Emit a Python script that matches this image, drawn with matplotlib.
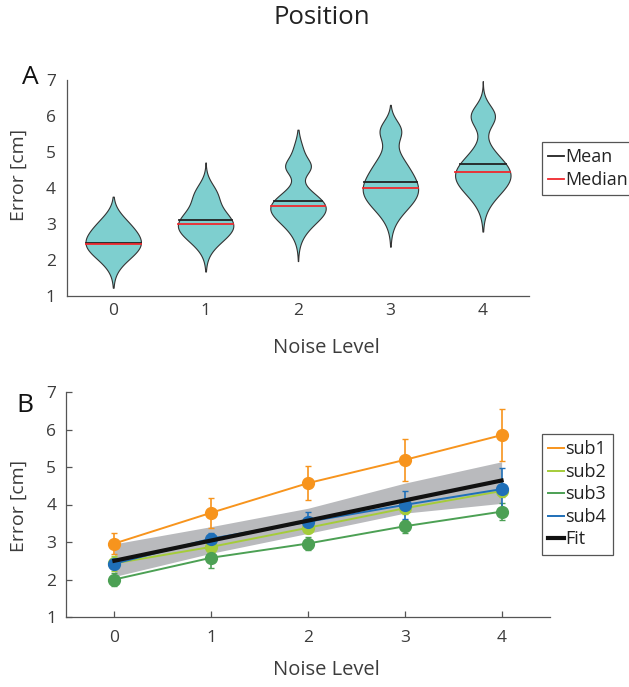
import numpy as np
import matplotlib
matplotlib.use("Agg")
import matplotlib.pyplot as plt
from matplotlib.lines import Line2D

plt.rcParams['font.family'] = ['Open Sans', 'DejaVu Sans']
TXT = '#3c3c3c'

# ---- panel A: violin data (per noise level) ----
levels = [0, 1, 2, 3, 4]
viol_mean = [2.47, 3.10, 3.64, 4.17, 4.67]
viol_median = [2.44, 3.00, 3.49, 4.00, 4.44]
viol_min = [1.23, 1.68, 1.97, 2.37, 2.79]
viol_max = [3.76, 4.71, 5.62, 6.31, 6.97]
# density shape as gaussian components (centre, spread, weight)
viol_mu = [[2.45, 3.05], [2.95, 3.85], [3.50, 3.05, 4.58, 5.00],
           [3.90, 4.70, 5.60], [4.35, 6.00]]
viol_sd = [[0.42, 0.30], [0.43, 0.30], [0.38, 0.40, 0.22, 0.30],
           [0.51, 0.40, 0.28], [0.53, 0.30]]
viol_w = [[1.00, 0.22], [1.00, 0.32], [1.00, 0.30, 0.45, 0.20],
          [1.00, 0.30, 0.38], [1.00, 0.43]]

# ---- panel B: per-subject error ----
sub1 = [2.96, 3.78, 4.57, 5.19, 5.85]
sub1_err = [0.29, 0.40, 0.46, 0.55, 0.70]
sub2 = [2.43, 2.87, 3.38, 3.90, 4.36]
sub2_err = [0.20, 0.15, 0.15, 0.15, 0.15]
sub3 = [2.00, 2.58, 2.96, 3.42, 3.81]
sub3_err = [0.18, 0.28, 0.18, 0.17, 0.22]
sub4 = [2.42, 3.09, 3.54, 3.99, 4.41]
sub4_err = [0.15, 0.15, 0.27, 0.38, 0.57]
fit_vals = [2.50, 3.04, 3.57, 4.11, 4.64]
fit_hi = [2.95, 3.41, 3.90, 4.57, 5.14]
fit_lo = [2.08, 2.70, 3.23, 3.77, 4.03]

sub_names = ['sub1', 'sub2', 'sub3', 'sub4']
sub_colors = ['#F7941D', '#A5CC3A', '#4CA054', '#1F6FB8']

W, H = 629, 687
fig = plt.figure(figsize=(W / 100, H / 100), dpi=100)
fig.text(322 / W, 1 - 18 / H, 'Position', ha='center', va='center', fontsize=18.5, color='#222222')

def style_axes(ax, ticks_in, ylab_y, xlab_y):
    for s in ['top', 'right']:
        ax.spines[s].set_visible(False)
    for s in ['left', 'bottom']:
        ax.spines[s].set_color('#555555')
        ax.spines[s].set_linewidth(0.9)
    ax.set_ylim(1, 7)
    ax.set_xlim(-0.5, 4.5)
    ax.set_yticks(range(1, 8))
    ax.set_xticks(levels)
    if ticks_in:
        ax.tick_params(direction='in', length=4, width=0.9, color='#555555',
                       labelsize=12.5, labelcolor=TXT)
        ax.tick_params(axis='x', pad=9)
        ax.tick_params(axis='y', pad=7)
    else:
        ax.tick_params(length=0, labelsize=12.5, labelcolor=TXT, pad=8)
        ax.tick_params(axis='x', pad=5)
    # label positions measured in figure pixels
    fig.text(19 / W, 1 - ylab_y / H, 'Error [cm]', rotation=90, ha='center', va='center',
             fontsize=14, color=TXT)
    fig.text(326 / W, 1 - xlab_y / H, 'Noise Level', ha='center', va='center',
             fontsize=14.5, color=TXT)

def make_legend(ax, handles, labels, top_px):
    leg = ax.legend(handles=handles, labels=labels, loc='upper left',
                    bbox_to_anchor=(542 / W, 1 - top_px / H), bbox_transform=fig.transFigure,
                    fontsize=13, handlelength=0.85, handletextpad=0.1, borderpad=0.35,
                    labelspacing=0.25, fancybox=False, framealpha=1, borderaxespad=0)
    leg.get_frame().set_edgecolor('#555555')
    leg.get_frame().set_linewidth(0.9)
    for t in leg.get_texts():
        t.set_color('#222222')
    return leg

# ---- A ----
axA = fig.add_axes([67 / W, 1 - 296 / H, 462 / W, 216 / H])
style_axes(axA, ticks_in=False, ylab_y=175, xlab_y=348)
half_w = 0.30
for i, x in enumerate(levels):
    yy = np.linspace(viol_min[i], viol_max[i], 400)
    dens = np.zeros_like(yy)
    for m, s, w in zip(viol_mu[i], viol_sd[i], viol_w[i]):
        dens += w * np.exp(-0.5 * ((yy - m) / s) ** 2)
    dens = dens / dens.max() * half_w
    axA.fill_betweenx(yy, x - dens, x + dens, facecolor='#7ECFCF',
                      edgecolor='#333333', linewidth=0.8, zorder=2)
    wm = np.interp(viol_mean[i], yy, dens)
    wd = np.interp(viol_median[i], yy, dens)
    axA.plot([x - wm, x + wm], [viol_mean[i]] * 2, color='#222222', lw=1.3, zorder=3)
    axA.plot([x - wd, x + wd], [viol_median[i]] * 2, color='#F0282D', lw=1.3, zorder=3)

make_legend(axA, [Line2D([], [], color='#222222', lw=1.3),
                  Line2D([], [], color='#F0282D', lw=1.3)], ['Mean', 'Median'], 142)
fig.text(30 / W, 1 - 78 / H, 'A', fontsize=19, ha='center', va='center', color='#111111')

# ---- B ----
axB = fig.add_axes([66 / W, 1 - 617 / H, 484 / W, 225 / H])
style_axes(axB, ticks_in=True, ylab_y=506, xlab_y=670)
axB.fill_between(levels, fit_lo, fit_hi, color='#B9BABD', lw=0, zorder=1)
for vals, err, c in zip([sub1, sub2, sub3, sub4], [sub1_err, sub2_err, sub3_err, sub4_err], sub_colors):
    axB.errorbar(levels, vals, yerr=err, color=c, lw=1.4, marker='o', ms=8.5,
                 elinewidth=1.2, capsize=2, capthick=1.0, zorder=2)
axB.plot(levels, fit_vals, color='#111111', lw=3.0, zorder=4)

handles = [Line2D([], [], color=c, lw=1.4) for c in sub_colors]
handles.append(Line2D([], [], color='#111111', lw=3.0))
make_legend(axB, handles, sub_names + ['Fit'], 434)
fig.text(25 / W, 1 - 405 / H, 'B', fontsize=19, ha='center', va='center', color='#111111')

fig.savefig('out.png', dpi=100)
